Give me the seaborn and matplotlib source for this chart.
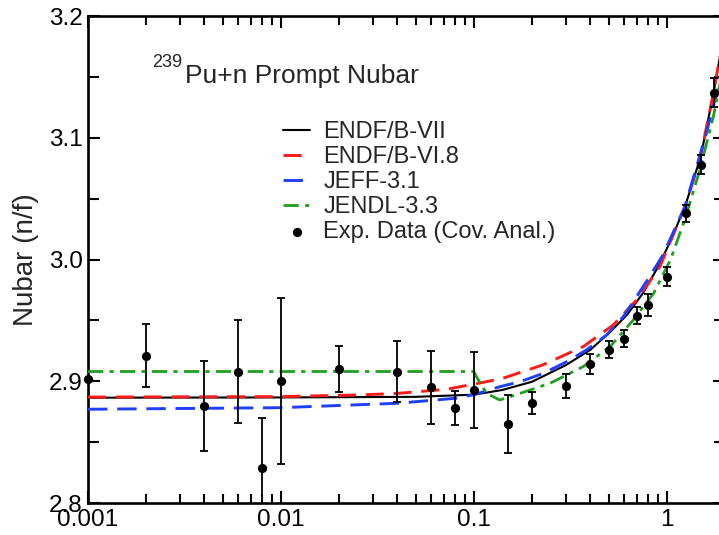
import numpy as np
import pandas as pd
import matplotlib
matplotlib.use("Agg")
import matplotlib.pyplot as plt
import seaborn as sns
from matplotlib.ticker import LogLocator, FixedLocator, MultipleLocator, FuncFormatter, NullFormatter

# ---------------- data ----------------
E_b7 = [0.001, 0.01, 0.05, 0.1, 0.14, 0.2, 0.3, 0.4, 0.5, 0.62, 0.75, 0.9, 1.05, 1.25, 1.5, 1.75, 2.0]
nu_b7 = [2.8865, 2.8867, 2.8872, 2.889, 2.8928, 2.8996, 2.9133, 2.9257, 2.9394, 2.9544, 2.9722,
         2.994, 3.016, 3.045, 3.085, 3.138, 3.19]

E_b68 = [0.001, 0.01, 0.025, 0.04, 0.072, 0.103, 0.141, 0.226, 0.368, 0.527, 0.697, 0.92, 1.24, 1.48, 1.74, 2.0]
nu_b68 = [2.8870, 2.8874, 2.8887, 2.8900, 2.8934, 2.8980, 2.9024, 2.9133, 2.9284, 2.9462, 2.9667,
          2.9942, 3.0434, 3.0817, 3.1365, 3.19]

E_jeff = [0.001, 0.01, 0.04, 0.08, 0.1, 0.136, 0.173, 0.229, 0.302, 0.383, 0.487, 0.594, 0.697,
          0.813, 0.954, 1.24, 1.6, 1.79, 2.0]
nu_jeff = [2.8770, 2.8783, 2.8819, 2.8860, 2.8890, 2.8955, 2.8996, 2.9065, 2.9160, 2.9257, 2.9380,
           2.9530, 2.9695, 2.9859, 3.0037, 3.0434, 3.1037, 3.1337, 3.168]

E_jendl = [0.001, 0.1, 0.103, 0.1164, 0.136, 0.173, 0.2475, 0.368, 0.507, 0.667, 0.853, 1.042,
           1.24, 1.48, 1.74, 2.0]
nu_jendl = [2.9080, 2.9080, 2.9037, 2.8900, 2.8846, 2.8900, 2.8983, 2.9120, 2.9284, 2.9500, 2.9722,
            2.9996, 3.033, 3.0735, 3.1173, 3.165]

E_exp = [0.001, 0.002, 0.004, 0.006, 0.008, 0.01, 0.02, 0.04, 0.06, 0.08, 0.1, 0.15, 0.2, 0.3,
         0.4, 0.5, 0.6, 0.7, 0.8, 1.0, 1.25, 1.5, 1.75]
nu_exp = [2.902, 2.921, 2.880, 2.908, 2.829, 2.900, 2.910, 2.908, 2.895, 2.878, 2.893, 2.865,
          2.882, 2.896, 2.914, 2.926, 2.935, 2.954, 2.963, 2.986, 3.038, 3.078, 3.137]
err_exp = [0.0, 0.026, 0.037, 0.042, 0.041, 0.068, 0.019, 0.025, 0.030, 0.014, 0.031, 0.024,
           0.009, 0.010, 0.008, 0.007, 0.007, 0.007, 0.009, 0.008, 0.007, 0.008, 0.012]

x_ticks = [0.001, 0.01, 0.1, 1]
x_ticklabels = ["0.001", "0.01", "0.1", "1"]
y_ticks = [2.8, 2.9, 3.0, 3.1, 3.2]
y_ticklabels = ["2.8", "2.9", "3.0", "3.1", "3.2"]

# ---------------- style ----------------
sns.set_style("ticks")
plt.rcParams['font.family'] = ['Liberation Sans', 'DejaVu Sans']
plt.rcParams['lines.scale_dashes'] = False

W, H = 719, 535
fig = plt.figure(figsize=(W / 100, H / 100), dpi=100)
ax = fig.add_axes([88 / W, 32 / H, (725 - 88) / W, 487 / H])

sns.lineplot(x=E_b7, y=nu_b7, ax=ax, color='black', lw=1.5, label='ENDF/B-VII',
             estimator=None, sort=False, zorder=3)
sns.lineplot(x=E_b68, y=nu_b68, ax=ax, color='#ff1a1a', lw=2.1, label='ENDF/B-VI.8',
             estimator=None, sort=False, linestyle=(0, (13, 7)), zorder=3)
sns.lineplot(x=E_jeff, y=nu_jeff, ax=ax, color='#1f3fff', lw=2.1, label='JEFF-3.1',
             estimator=None, sort=False, linestyle=(0, (14, 7)), zorder=3)
sns.lineplot(x=E_jendl, y=nu_jendl, ax=ax, color='#1f9e1f', lw=2.0, label='JENDL-3.3',
             estimator=None, sort=False, linestyle=(0, (11, 4.5, 3, 4.5)), zorder=3)

ax.errorbar(E_exp, nu_exp, yerr=err_exp, fmt='none', ecolor='black', elinewidth=1.3,
            capsize=3, capthick=1.3, zorder=4)
sns.scatterplot(x=E_exp, y=nu_exp, ax=ax, color='black', s=44, linewidth=0, zorder=5,
                clip_on=False, label='Exp. Data (Cov. Anal.)')

ax.set_xscale('log')
ax.set_xlim(0.001, 2.0)
ax.set_ylim(2.8, 3.2)

ax.xaxis.set_major_locator(FixedLocator(x_ticks))
ax.xaxis.set_major_formatter(FuncFormatter(lambda v, p: x_ticklabels[x_ticks.index(min(x_ticks, key=lambda t: abs(np.log10(t) - np.log10(v))))]))
ax.xaxis.set_minor_locator(LogLocator(base=10, subs=np.arange(2, 10), numticks=20))
ax.xaxis.set_minor_formatter(NullFormatter())
ax.yaxis.set_major_locator(FixedLocator(y_ticks))
ax.set_yticklabels(y_ticklabels)
ax.yaxis.set_minor_locator(MultipleLocator(0.05))

ax.tick_params(which='both', direction='in', top=True, right=True, width=1.5,
               labelsize=17.5, pad=4, colors='black')
ax.tick_params(which='major', length=8.5)
ax.tick_params(axis='x', which='minor', length=6.5)
ax.tick_params(axis='y', which='minor', length=8)
for s in ax.spines.values():
    s.set_linewidth(1.9)
    s.set_color('black')

ax.set_xlabel('')
ax.set_ylabel('Nubar (n/f)', fontsize=20)
ax.yaxis.set_label_coords((39 - 88) / 637, 0.5)

# title annotation
fig.text(152 / W, 1 - 66.7 / H, "239", fontsize=13, va='baseline', ha='left')
fig.text(185 / W, 1 - 83 / H, "Pu+n Prompt Nubar", fontsize=19, va='baseline', ha='left')

handles, labels = ax.get_legend_handles_labels()
ax.legend(handles, labels, loc='upper left', bbox_to_anchor=(283 / W, 1 - 121 / H),
          bbox_transform=fig.transFigure, frameon=False, fontsize=17, borderpad=0,
          borderaxespad=0, handlelength=1.15, handletextpad=0.55, labelspacing=0.13)

fig.savefig('out.png', dpi=100)
